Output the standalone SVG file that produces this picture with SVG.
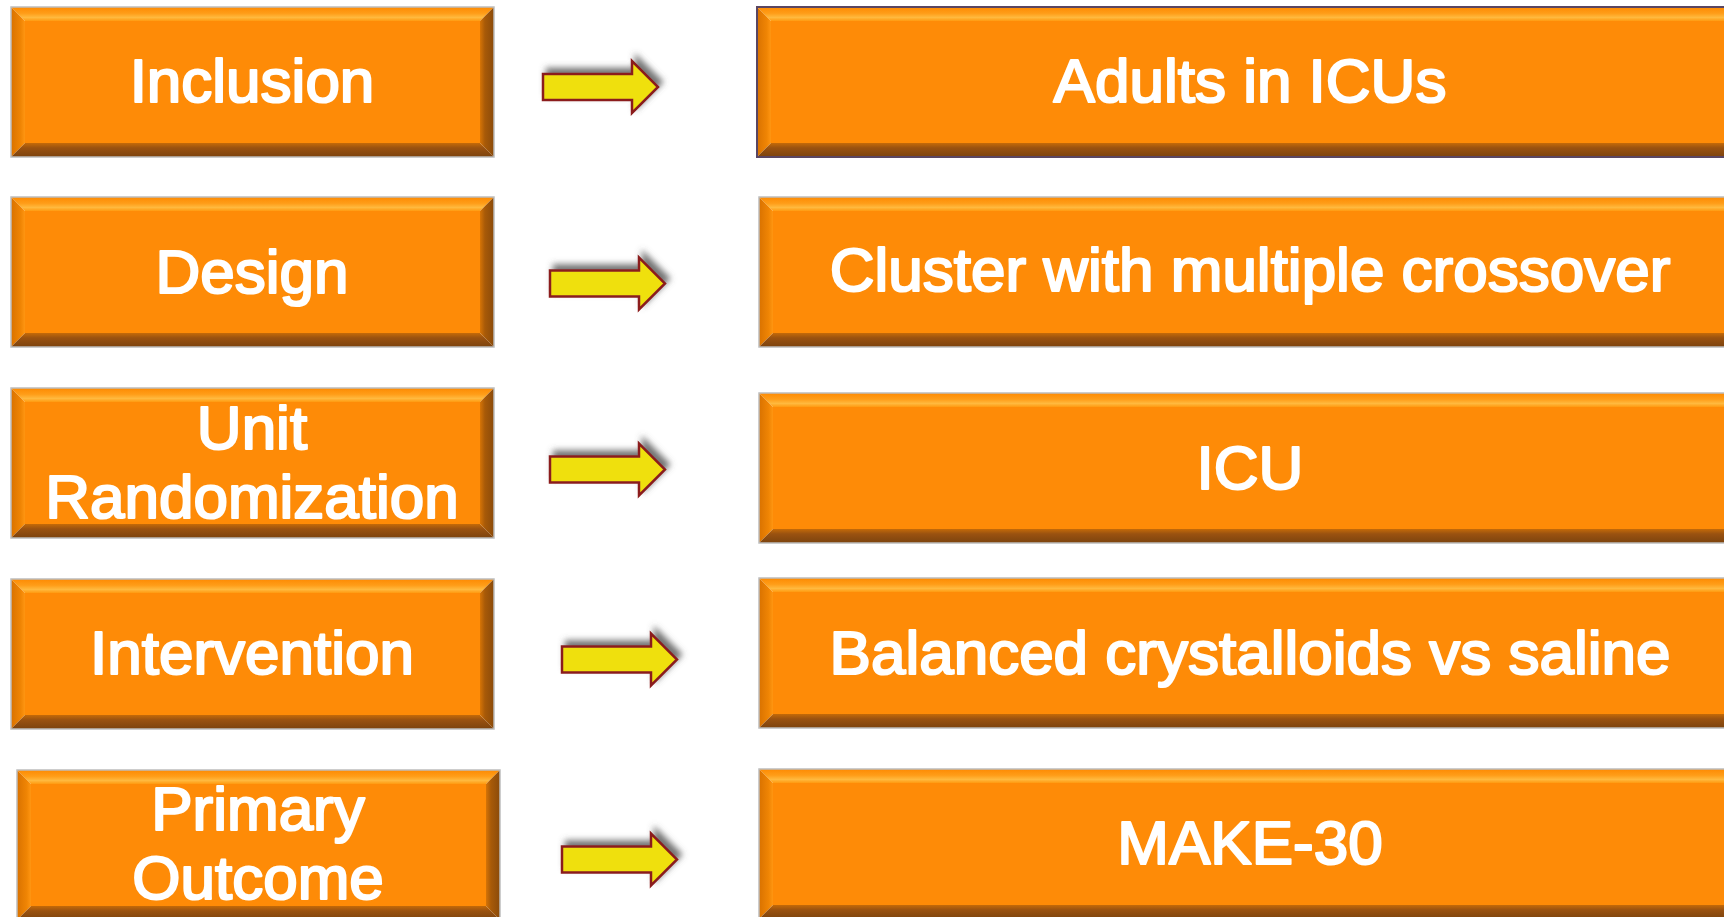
<svg xmlns="http://www.w3.org/2000/svg" xmlns:xlink="http://www.w3.org/1999/xlink" width="1724" height="917" viewBox="0 0 1724 917">
  <style>
    .label { font-family: "Liberation Sans", Arial, sans-serif; font-size: 62px; fill: #ffffff; stroke: #ffffff; stroke-width: 2.2px; stroke-linejoin: round; text-anchor: middle; }
    .face { fill: #fe8b07; }
    .edge { fill: none; stroke: #bdbdbd; stroke-width: 1.5; }
    .edge-sel { fill: none; stroke: #5a4662; stroke-width: 2; }
    .arrow { fill: #efe010; stroke: #8b1e1e; stroke-width: 2.5; stroke-linejoin: miter; }
  </style>
  <defs>
    <linearGradient id="gTop" x1="0" y1="0" x2="0" y2="1">
      <stop offset="0" stop-color="#fd8a02"/>
      <stop offset="0.45" stop-color="#ff9d18"/>
      <stop offset="0.75" stop-color="#ffb93e"/>
      <stop offset="1" stop-color="#ff9a10"/>
    </linearGradient>
    <linearGradient id="gLeft" x1="0" y1="0" x2="1" y2="0">
      <stop offset="0" stop-color="#d97200"/>
      <stop offset="0.7" stop-color="#f08504"/>
      <stop offset="1" stop-color="#ff9612"/>
    </linearGradient>
    <linearGradient id="gRight" x1="0" y1="0" x2="1" y2="0">
      <stop offset="0" stop-color="#d67406"/>
      <stop offset="0.35" stop-color="#a85a08"/>
      <stop offset="1" stop-color="#8a4a0a"/>
    </linearGradient>
    <linearGradient id="gBottom" x1="0" y1="0" x2="0" y2="1">
      <stop offset="0" stop-color="#c46a08"/>
      <stop offset="0.35" stop-color="#9a5210"/>
      <stop offset="1" stop-color="#7c430e"/>
    </linearGradient>

    <!-- bevelled button, 483 x 150 -->
    <g id="bevelSmall">
      <rect class="face" x="14" y="14" width="455" height="122"/>
      <polygon points="0,0 483,0 469,14 14,14" fill="url(#gTop)"/>
      <polygon points="0,0 14,14 14,136 0,150" fill="url(#gLeft)"/>
      <polygon points="483,0 483,150 469,136 469,14" fill="url(#gRight)"/>
      <polygon points="0,150 14,136 469,136 483,150" fill="url(#gBottom)"/>
    </g>
    <!-- wide bevelled button, runs past the right edge -->
    <g id="bevelWide">
      <rect class="face" x="14" y="14" width="962" height="122"/>
      <polygon points="0,0 990,0 976,14 14,14" fill="url(#gTop)"/>
      <polygon points="0,0 14,14 14,136 0,150" fill="url(#gLeft)"/>
      <polygon points="990,0 990,150 976,136 976,14" fill="url(#gRight)"/>
      <polygon points="0,150 14,136 976,136 990,150" fill="url(#gBottom)"/>
    </g>

    <filter id="arrowShadow" x="-20%" y="-60%" width="150%" height="200%">
      <feGaussianBlur in="SourceAlpha" stdDeviation="3"/>
      <feOffset dx="4" dy="-5" result="blur"/>
      <feFlood flood-color="#505050" flood-opacity="0.8"/>
      <feComposite in2="blur" operator="in"/>
      <feMerge>
        <feMergeNode/>
        <feMergeNode in="SourceGraphic"/>
      </feMerge>
    </filter>
    <path id="blockArrow" class="arrow" d="M0,-13 H89 V-26 L115,0 L89,26 V13 H0 Z"/>
  </defs>

  <rect width="1724" height="917" fill="#ffffff"/>

  <!-- left column: field names -->
  <g id="node-inclusion">
    <use xlink:href="#bevelSmall" x="11" y="7"/>
    <rect class="edge" x="11" y="7" width="483" height="150"/>
    <text class="label" x="252" y="102">Inclusion</text>
  </g>
  <g id="node-design">
    <use xlink:href="#bevelSmall" x="11" y="197"/>
    <rect class="edge" x="11" y="197" width="483" height="150"/>
    <text class="label" x="252" y="293">Design</text>
  </g>
  <g id="node-unit">
    <use xlink:href="#bevelSmall" x="11" y="388"/>
    <rect class="edge" x="11" y="388" width="483" height="150"/>
    <text class="label" x="252" y="449">Unit</text>
    <text class="label" x="252" y="518">Randomization</text>
  </g>
  <g id="node-intervention">
    <use xlink:href="#bevelSmall" x="11" y="579"/>
    <rect class="edge" x="11" y="579" width="483" height="150"/>
    <text class="label" x="252" y="674">Intervention</text>
  </g>
  <g id="node-outcome">
    <use xlink:href="#bevelSmall" x="17" y="770"/>
    <rect class="edge" x="17" y="770" width="483" height="150"/>
    <text class="label" x="258" y="830">Primary</text>
    <text class="label" x="258" y="899">Outcome</text>
  </g>

  <!-- right column: values -->
  <g id="node-adults">
    <use xlink:href="#bevelWide" x="757" y="7"/>
    <rect class="edge-sel" x="757" y="7" width="990" height="150"/>
    <text class="label" x="1250" y="102">Adults in ICUs</text>
  </g>
  <g id="node-cluster">
    <use xlink:href="#bevelWide" x="759" y="197"/>
    <rect class="edge" x="759" y="197" width="990" height="150"/>
    <text class="label" x="1250" y="291">Cluster with multiple crossover</text>
  </g>
  <g id="node-icu">
    <use xlink:href="#bevelWide" x="759" y="393"/>
    <rect class="edge" x="759" y="393" width="990" height="150"/>
    <text class="label" x="1250" y="489">ICU</text>
  </g>
  <g id="node-balanced">
    <use xlink:href="#bevelWide" x="759" y="578"/>
    <rect class="edge" x="759" y="578" width="990" height="150"/>
    <text class="label" x="1250" y="674">Balanced crystalloids vs saline</text>
  </g>
  <g id="node-make30">
    <use xlink:href="#bevelWide" x="759" y="769"/>
    <rect class="edge" x="759" y="769" width="990" height="150"/>
    <text class="label" x="1250" y="864">MAKE-30</text>
  </g>

  <!-- connectors: block arrows between columns -->
  <g id="connectors" filter="url(#arrowShadow)">
    <use xlink:href="#blockArrow" x="543" y="87"/>
    <use xlink:href="#blockArrow" x="550" y="283.5"/>
    <use xlink:href="#blockArrow" x="550" y="469.5"/>
    <use xlink:href="#blockArrow" x="562" y="659.5"/>
    <use xlink:href="#blockArrow" x="562" y="859.5"/>
  </g>
</svg>
